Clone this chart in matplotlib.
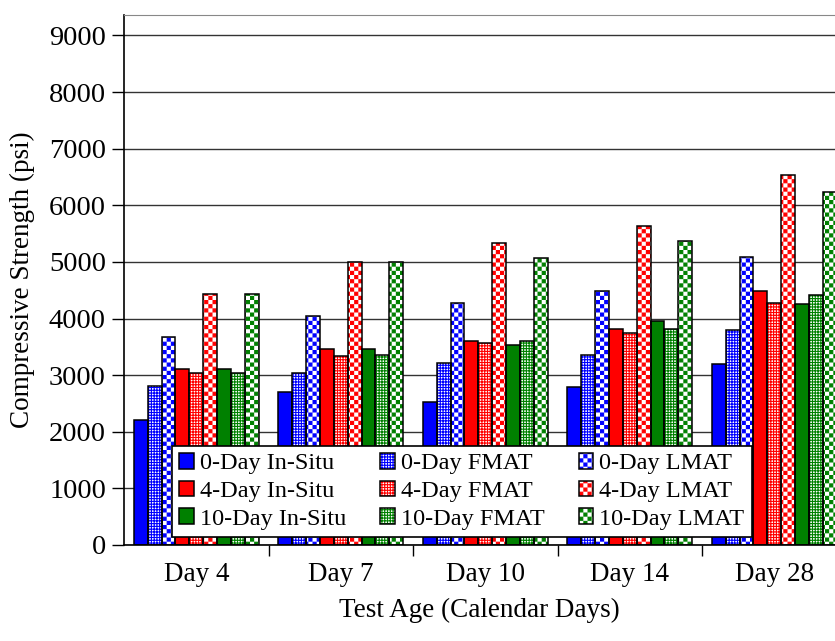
import warnings
import numpy as np
import matplotlib
matplotlib.use("Agg")
import matplotlib.pyplot as plt
import matplotlib.hatch as mhatch
from matplotlib.path import Path
from matplotlib.legend_handler import HandlerTuple

warnings.filterwarnings("ignore")

# ---- data -------------------------------------------------------------
ages = ["Day 4", "Day 7", "Day 10", "Day 14", "Day 28"]

in_situ_0 = [2200, 2710, 2520, 2790, 3200]
fmat_0 = [2800, 3045, 3220, 3360, 3790]
lmat_0 = [3680, 4040, 4270, 4480, 5080]
in_situ_4 = [3110, 3465, 3600, 3820, 4480]
fmat_4 = [3035, 3345, 3560, 3740, 4280]
lmat_4 = [4440, 4990, 5330, 5630, 6540]
in_situ_10 = [3110, 3465, 3530, 3960, 4260]
fmat_10 = [3035, 3350, 3610, 3820, 4410]
lmat_10 = [4440, 4990, 5060, 5360, 6230]

series_labels = ["0-Day In-Situ", "0-Day FMAT", "0-Day LMAT",
                 "4-Day In-Situ", "4-Day FMAT", "4-Day LMAT",
                 "10-Day In-Situ", "10-Day FMAT", "10-Day LMAT"]
series_values = [in_situ_0, fmat_0, lmat_0,
                 in_situ_4, fmat_4, lmat_4,
                 in_situ_10, fmat_10, lmat_10]
yticks = [0, 1000, 2000, 3000, 4000, 5000, 6000, 7000, 8000, 9000]

# ---- styling ----------------------------------------------------------
BLUE, RED, GREEN = "#0000FF", "#FF0000", "#008000"
series_colors = [BLUE] * 3 + [RED] * 3 + [GREEN] * 3
# '' = solid, '++++++' = fine mesh, '####' = checkerboard (custom below)
series_hatches = ["", "++++++", "####"] * 3

HATCH_LW = 0.8
plt.rcParams["hatch.linewidth"] = HATCH_LW
plt.rcParams["font.family"] = ["Liberation Serif", "DejaVu Serif"]


class CheckerHatch(mhatch.HatchPatternBase):
    """Checkerboard fill pattern triggered by '#' in the hatch string."""

    def __init__(self, hatch, density):
        n = int(hatch.count("#") * density)
        if n % 2:
            n += 1
        self.cells = n
        self.num_vertices = (n * n // 2) * 5 if n else 0

    def set_vertices_and_codes(self, vertices, codes):
        n = self.cells
        step = 1.0 / n
        pad = HATCH_LW / 144.0
        ii, jj = np.meshgrid(np.arange(n), np.arange(n), indexing="ij")
        mask = (ii + jj) % 2 == 0
        x0 = ii[mask] * step + pad
        y0 = jj[mask] * step + pad
        x1 = x0 + step - 2 * pad
        y1 = y0 + step - 2 * pad
        quad = np.stack([np.stack([x0, y0], 1), np.stack([x1, y0], 1),
                         np.stack([x1, y1], 1), np.stack([x0, y1], 1),
                         np.stack([x0, y0], 1)], axis=1)
        vertices[:] = quad.reshape(-1, 2)
        codes[:] = np.tile([Path.MOVETO, Path.LINETO, Path.LINETO,
                            Path.LINETO, Path.CLOSEPOLY], len(x0))


mhatch._hatch_types.append(CheckerHatch)

# ---- figure -----------------------------------------------------------
fig = plt.figure(figsize=(8.35, 6.41), dpi=100)
ax = fig.add_axes([124 / 835, 1 - 545 / 641, 1 - 124 / 835, (545 - 15) / 641])

n_series = len(series_values)
width = 0.096
groups = np.arange(len(ages))

handles = []
for k, (vals, col, hatch) in enumerate(zip(series_values, series_colors,
                                           series_hatches)):
    xpos = groups + (k - (n_series - 1) / 2) * width
    if hatch:
        fill = ax.bar(xpos, vals, width, color="white", edgecolor=col,
                      hatch=hatch, linewidth=0, zorder=2)
    else:
        fill = ax.bar(xpos, vals, width, color=col, linewidth=0, zorder=2)
    outline = ax.bar(xpos, vals, width, fill=False, edgecolor="black",
                     linewidth=1.1, zorder=3)
    handles.append((fill, outline))

ax.set_xlim(-0.5, 4.42)
ax.set_ylim(0, 9360)
ax.set_yticks(yticks)
ax.set_yticklabels([str(v) for v in yticks])
ax.set_xticks(groups)
ax.set_xticklabels(ages)
ax.set_xticks(groups[:-1] + 0.5, minor=True)
ax.tick_params(axis="x", which="major", length=0, pad=12, labelsize=19.5)
ax.tick_params(axis="x", which="minor", direction="out", length=8,
               width=1, color="black")
ax.tick_params(axis="y", direction="out", length=9, width=1,
               labelsize=20.5, pad=4)

ax.yaxis.grid(True, color="#333333", linewidth=1.0, zorder=0)
ax.set_axisbelow(True)

ax.spines["right"].set_visible(False)
ax.spines["top"].set_color("#888888")
ax.spines["left"].set_linewidth(1.2)
ax.spines["bottom"].set_linewidth(1.2)

ax.set_ylabel("Compressive Strength (psi)", fontsize=19.5, labelpad=10)
ax.set_xlabel("Test Age (Calendar Days)", fontsize=19.5, labelpad=8)

# legend columns: In-Situ | FMAT | LMAT, rows by curing age
order = [0, 3, 6, 1, 4, 7, 2, 5, 8]
leg = ax.legend([handles[i] for i in order], [series_labels[i] for i in order],
                ncol=3, fontsize=17.5, loc="lower left",
                bbox_to_anchor=((172 - 124) / 711, (545 - 537) / 530),
                borderaxespad=0, frameon=True, fancybox=False,
                edgecolor="black", framealpha=1, borderpad=0.3,
                handlelength=0.6, handleheight=0.6, handletextpad=0.25,
                columnspacing=1.4, labelspacing=0.26,
                handler_map={tuple: HandlerTuple(ndivide=1, pad=0)})
leg.get_frame().set_linewidth(1.2)
leg.set_zorder(5)

fig.savefig("out.png", dpi=100)
